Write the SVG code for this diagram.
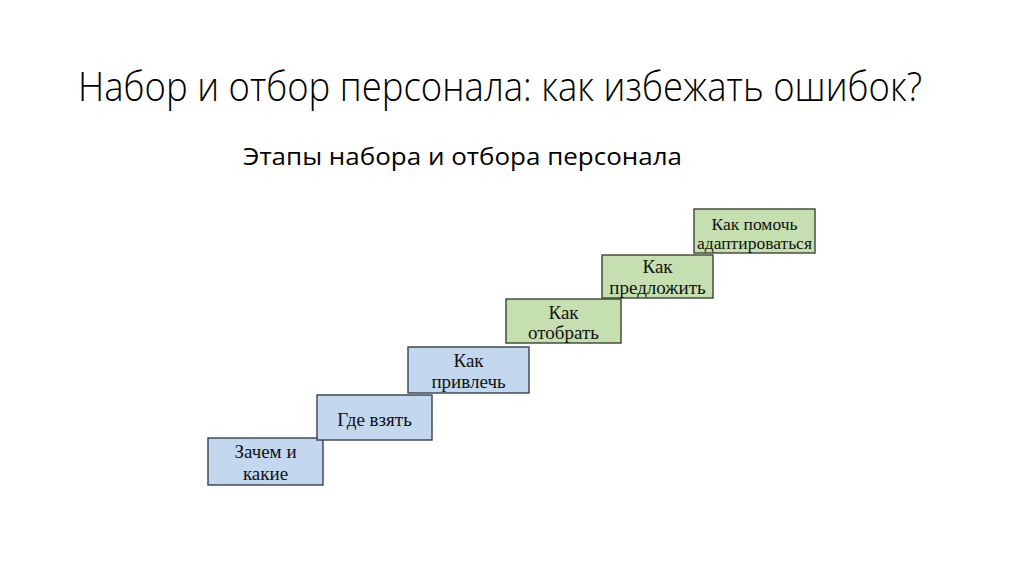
<svg xmlns="http://www.w3.org/2000/svg" width="1024" height="574" viewBox="0 0 1024 574">
<style>
.title{font-family:"Open Sans","Liberation Sans",sans-serif;font-weight:300;font-size:41px;fill:#000}
.sub{font-family:"Open Sans","Liberation Sans",sans-serif;font-weight:400;font-size:23px;fill:#000}
.blue{fill:#c3d7ef;stroke:#38404c;stroke-width:1.4}
.green{fill:#c5dfb0;stroke:#3a4532;stroke-width:1.4}
.t{font-family:"Liberation Serif","Times New Roman",serif;font-size:19px;fill:#111;text-anchor:middle}
.ts{font-family:"Liberation Serif","Times New Roman",serif;font-size:17.5px;fill:#111;text-anchor:middle}
</style>
<rect width="1024" height="574" fill="#fff"/>
<text class="title" transform="translate(78,101) scale(0.9,1)" x="0" y="0" textLength="937.8" lengthAdjust="spacingAndGlyphs">Набор и отбор персонала: как избежать ошибок?</text>
<text class="sub" transform="translate(243,165) scale(0.9,1)" x="0" y="0" textLength="487.8" lengthAdjust="spacingAndGlyphs">Этапы набора и отбора персонала</text>
<g id="connectors"></g>
<g id="n1"><rect class="blue" x="208" y="438" width="115" height="47"/><text class="t" x="265.5" y="458">Зачем и</text><text class="t" x="265.5" y="480">какие</text></g>
<g id="n2"><rect class="blue" x="317" y="395" width="115" height="45"/><text class="t" x="374.5" y="426">Где взять</text></g>
<g id="n3"><rect class="blue" x="408" y="347" width="121" height="46"/><text class="t" x="468.5" y="367">Как</text><text class="t" x="468.5" y="388">привлечь</text></g>
<g id="n4"><rect class="green" x="506" y="299" width="115" height="44"/><text class="t" x="563.5" y="319">Как</text><text class="t" x="563.5" y="339">отобрать</text></g>
<g id="n5"><rect class="green" x="602" y="255" width="111" height="43"/><text class="t" x="657.5" y="273">Как</text><text class="t" x="657.5" y="294">предложить</text></g>
<g id="n6"><rect class="green" x="694" y="209" width="121" height="44"/><text class="ts" x="754.5" y="230">Как помочь</text><text class="ts" x="754.5" y="249">адаптироваться</text></g>
</svg>
